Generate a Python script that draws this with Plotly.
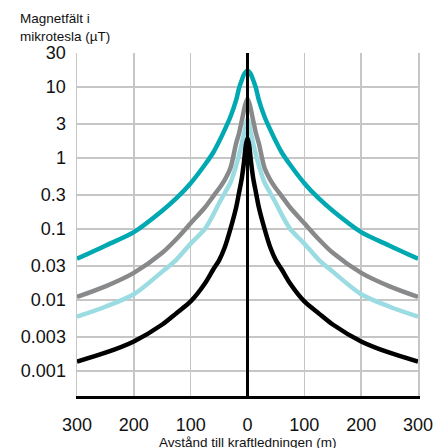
import plotly.graph_objects as go
import math

# Distance from the power line (m), one side; the curves are symmetric
teal_dist = [0, 5, 10, 15, 20, 30, 40, 50, 60, 75, 100, 125, 150, 200, 250, 300]
teal_vals = [17, 15.5, 12.5, 9.5, 6.5, 3.8, 2.5, 1.7, 1.2, 0.8, 0.44, 0.27, 0.18, 0.09, 0.058, 0.038]

gray_dist = [0, 4, 8, 15, 20, 30, 40, 50, 60, 75, 100, 125, 150, 200, 250, 300]
gray_vals = [6.8, 5.6, 4.0, 2.2, 1.6, 0.72, 0.49, 0.37, 0.29, 0.2, 0.12, 0.072, 0.046, 0.024, 0.0155, 0.011]

light_dist = [0, 5, 10, 15, 20, 30, 40, 50, 60, 75, 100, 125, 150, 200, 250, 300]
light_vals = [3.5, 2.4, 1.6, 1.1, 0.78, 0.45, 0.32, 0.23, 0.16, 0.1, 0.062, 0.037, 0.025, 0.012, 0.008, 0.0058]

black_dist = [0, 3, 6, 10, 15, 20, 30, 40, 50, 60, 75, 100, 125, 150, 200, 250, 300]
black_vals = [1.9, 1.5, 0.9, 0.52, 0.32, 0.2, 0.1, 0.055, 0.036, 0.027, 0.017, 0.0095, 0.0065, 0.0045, 0.0026, 0.0018, 0.00135]

y_tickvals = [30, 10, 3, 1, 0.3, 0.1, 0.03, 0.01, 0.003, 0.001]
y_ticktext = ["30", "10", "3", "1", "0.3", "0.1", "0.03", "0.01", "0.003", "0.001"]
x_tickvals = [-300, -200, -100, 0, 100, 200, 300]
x_ticktext = ["300", "200", "100", "0", "100", "200", "300"]

series = [
    (light_dist, light_vals, "#9bdce2"),
    (gray_dist, gray_vals, "#87898b"),
    (teal_dist, teal_vals, "#00a8b1"),
    (black_dist, black_vals, "#000000"),
]

FONT = "Liberation Sans, Arial, sans-serif"
fig = go.Figure()
for dist, vals, color in series:
    xs = [-d for d in reversed(dist)] + dist[1:]
    ys = list(reversed(vals)) + vals[1:]
    fig.add_trace(go.Scatter(x=xs, y=ys, mode="lines",
                             line=dict(color=color, width=4.5, shape="spline", smoothing=0.8),
                             hoverinfo="skip", showlegend=False))

grid = "#c6c6c6"
fig.update_layout(
    width=436, height=448,
    margin=dict(l=77, r=18, t=53, b=52, autoexpand=False),
    paper_bgcolor="white", plot_bgcolor="white",
    font=dict(family=FONT, color="#111111"),
    xaxis=dict(range=[-300, 300], tickvals=x_tickvals, ticktext=x_ticktext,
               tickfont=dict(size=18), showgrid=True, gridcolor=grid, gridwidth=1.5,
               zeroline=True, zerolinecolor="black", zerolinewidth=3, zerolinelayer="above traces",
               showline=True, linecolor="black", linewidth=3, ticks="", ticklabelstandoff=10,
               fixedrange=True),
    yaxis=dict(type="log", range=[-3.354, math.log10(30)], tickvals=y_tickvals, ticktext=y_ticktext,
               tickfont=dict(size=18), showgrid=True, gridcolor=grid, gridwidth=1.5,
               zeroline=False, showline=True, linecolor=grid, linewidth=1.5, mirror=True,
               ticks="", ticklabelstandoff=6, fixedrange=True),
    annotations=[
        dict(text="Magnetfält i<br>mikrotesla (µT)", xref="paper", yref="paper",
             x=(18 - 77) / 341, y=1 + (53 - 9) / 343, xanchor="left", yanchor="top",
             showarrow=False, align="left",
             font=dict(size=13.5, color="#111111")),
        dict(text="Avstånd till kraftledningen (m)", xref="paper", yref="paper",
             x=0.5, y=-(433 - 396) / 343, xanchor="center", yanchor="top", showarrow=False,
             font=dict(size=13.5, color="#111111")),
    ],
)

fig.write_html("out.html", config={"displayModeBar": False, "staticPlot": True},
               post_script="document.body.style.margin='0';document.body.style.overflow='hidden';")
